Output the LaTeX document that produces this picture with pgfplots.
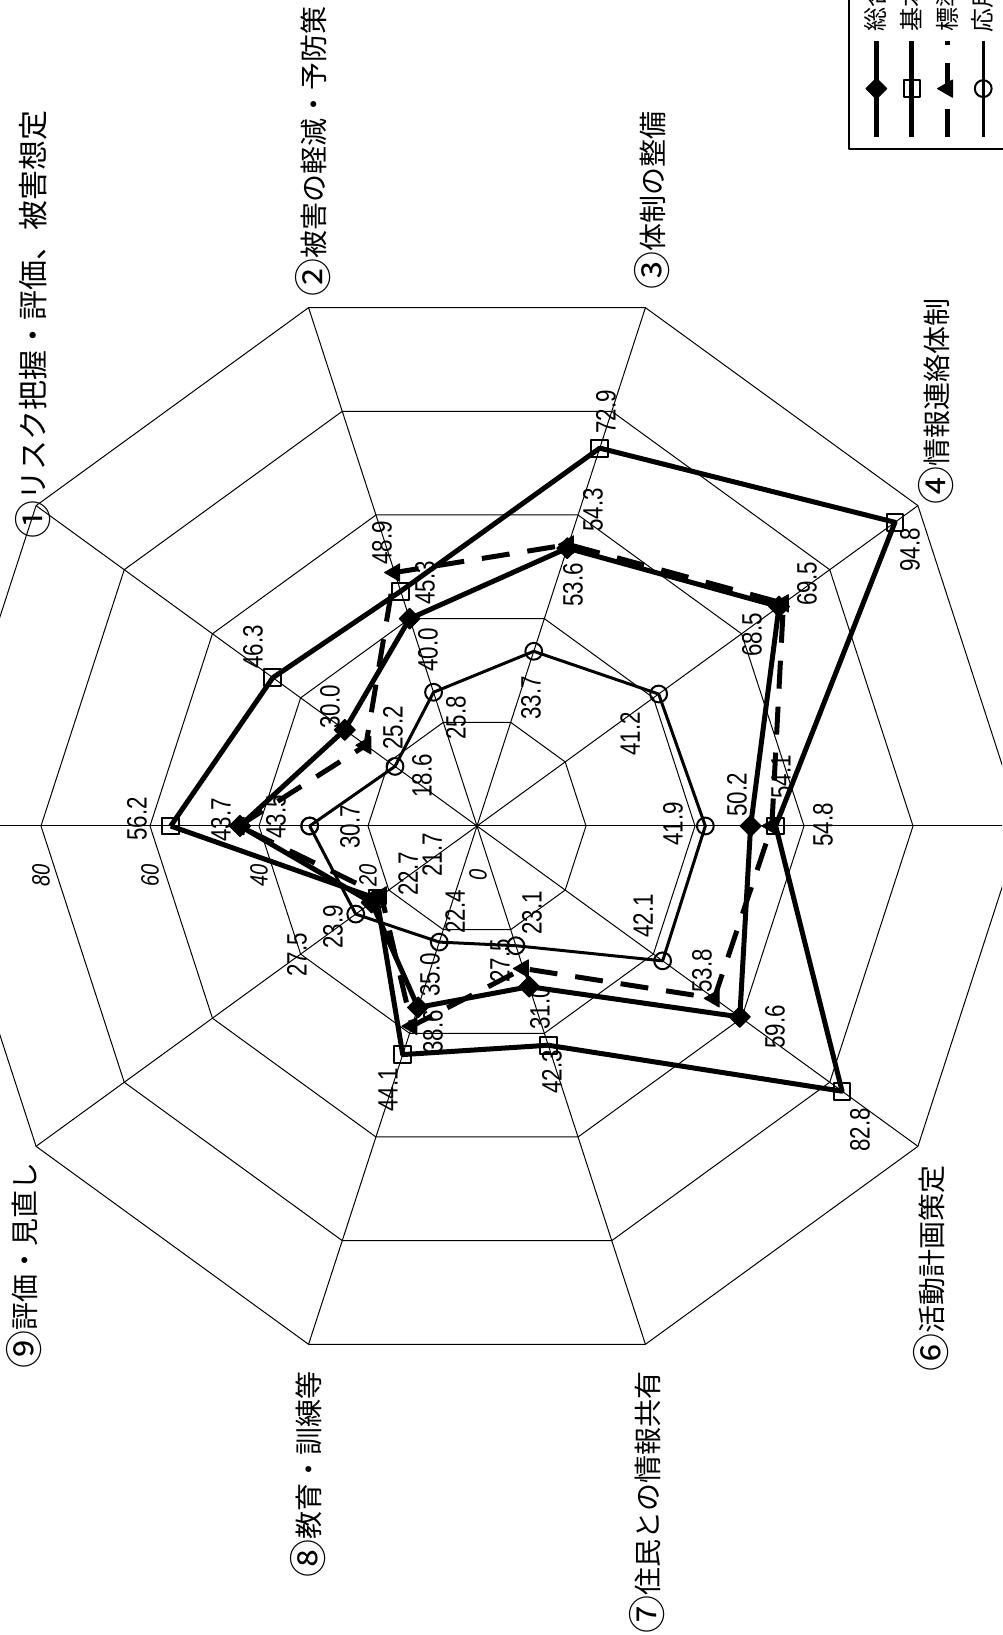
\documentclass[border=0pt]{standalone}
\usepackage{fontspec}
\usepackage{pgfplots}
\pgfplotsset{compat=1.18}
\usepgfplotslibrary{polar}
\setmainfont{Liberation Sans}
\newfontfamily\jp{Noto Sans CJK JP}
\newfontfamily\num[FakeStretch=0.8]{Liberation Sans}

\pgfplotsset{
  gridline/.style={black, line width=0.5pt, mark=none, data cs=polar, forget plot},
  % legend sample: upright line with the mark in the middle and the name above it
  vleg/.style={legend image code/.code={
    \draw[mark repeat=2, mark phase=2, ##1] plot coordinates {(0pt,0pt) (0pt,24pt) (0pt,48pt)};
    \node[rotate=90, anchor=west, inner sep=0pt, font=\jp\fontsize{12}{12}\selectfont] at (0pt,51.5pt) {#1};}},
}
% value label, rotated like the rest of the page
\newcommand{\vl}[3]{\node[rotate=90, inner sep=0pt, font=\num\fontsize{14}{14}\selectfont] at (axis cs:#1,#2) {#3};}
\newcommand{\tl}[2]{\node[rotate=90, inner sep=0pt, font=\num\itshape\fontsize{12.5}{12.5}\selectfont] at (axis cs:#1,-9) {#2};}
% circled number, set a little larger than the CJK font gives it
\newcommand{\cn}[1]{\raisebox{-1.5pt}{\fontsize{19}{19}\selectfont #1}}

\begin{document}
\begin{tikzpicture}
\begin{axis}[
  width=501pt, height=817.5pt, scale only axis,
  xmin=-87.52, xmax=96.33, ymin=-148.44, ymax=151.56,
  hide axis,
  line join=round,
  legend columns=4,
  legend style={at={(0.8463,0.9083)}, anchor=south west,
    draw=black, line width=0.8pt, inner xsep=8pt, inner ysep=5pt,
    column sep=2.6pt, nodes={inner sep=0pt}},
]

% web: rings and spokes
\pgfplotsinvokeforeach{20,40,60,80,100}{
  \addplot[gridline] coordinates {(180,#1) (144,#1) (108,#1) (72,#1) (36,#1) (0,#1) (-36,#1) (-72,#1) (-108,#1) (-144,#1) (180,#1)};
}
\pgfplotsinvokeforeach{180,144,108,72,36,0,-36,-72,-108,-144}{
  \addplot[gridline] coordinates {(0,0) (#1,100)};
}

% 総合
\addplot[black, line width=2.5pt, data cs=polar, mark=square*, mark size=3.7pt,
  mark options={solid, rotate=45, line width=0.5pt}, vleg=総合]
  coordinates {(180,43.5) (144,30.0) (108,40.0) (72,53.6) (36,68.5) (0,50.2) (-36,59.6) (-72,31.0) (-108,35.0) (-144,23.9) (180,43.5)};
\addlegendentry{}
% 基本
\addplot[black, line width=2.5pt, data cs=polar, mark=square, mark size=4.2pt,
  mark options={solid, line width=1pt}, vleg=基本]
  coordinates {(180,56.2) (144,46.3) (108,45.3) (72,72.9) (36,94.8) (0,54.8) (-36,82.8) (-72,42.3) (-108,44.1) (-144,22.7) (180,56.2)};
\addlegendentry{}
% 標準
\addplot[black, line width=2.5pt, dash pattern=on 14pt off 9pt, data cs=polar, mark=triangle*, mark size=5pt,
  mark options={solid, rotate=90, line width=0.5pt}, vleg=標準]
  coordinates {(180,43.7) (144,25.2) (108,48.9) (72,54.3) (36,69.5) (0,54.1) (-36,53.8) (-72,27.5) (-108,38.6) (-144,21.7) (180,43.7)};
\addlegendentry{}
% 応用
\addplot[black, line width=1.5pt, data cs=polar, mark=o, mark size=4.2pt,
  mark options={solid, line width=1pt}, vleg=応用]
  coordinates {(180,30.7) (144,18.6) (108,25.8) (72,33.7) (36,41.2) (0,41.9) (-36,42.1) (-72,23.1) (-108,22.4) (-144,27.5) (180,30.7)};
\addlegendentry{}

% value labels
\vl{-62.39}{1.28}{56.2}
\vl{-46.97}{1.10}{43.7}
\vl{-36.88}{1.65}{43.5}
\vl{-23.30}{-0.18}{30.7}
\vl{-41.10}{32.84}{46.3}
\vl{-26.97}{21.83}{30.0}
\vl{-15.41}{17.98}{25.2}
\vl{-10.09}{9.17}{18.6}
\vl{-17.43}{51.93}{48.9}
\vl{-9.54}{44.59}{45.3}
\vl{-8.99}{32.29}{40.0}
\vl{-3.85}{19.82}{25.8}
\vl{23.67}{75.96}{72.9}
\vl{21.28}{57.98}{54.3}
\vl{17.61}{44.22}{53.6}
\vl{9.91}{23.49}{33.7}
\vl{79.45}{50.64}{94.8}
\vl{60.55}{44.40}{69.5}
\vl{50.46}{35.05}{68.5}
\vl{28.07}{16.88}{41.2}
\vl{35.96}{0.37}{41.9}
\vl{47.71}{5.69}{50.2}
\vl{55.78}{8.99}{54.1}
\vl{63.49}{0.18}{54.8}
\vl{70.28}{-55.78}{82.8}
\vl{54.68}{-36.88}{59.6}
\vl{41.28}{-26.61}{53.8}
\vl{30.46}{-16.51}{42.1}
\vl{13.76}{-45.14}{42.3}
\vl{11.56}{-33.39}{31.0}
\vl{4.22}{-24.77}{27.5}
\vl{10.09}{-15.96}{23.1}
\vl{-16.33}{-48.44}{44.1}
\vl{-8.07}{-37.80}{38.6}
\vl{-8.62}{-27.34}{35.0}
\vl{-4.04}{-15.78}{22.4}
\vl{-33.03}{-23.67}{27.5}
\vl{-26.42}{-18.53}{23.9}
\vl{-12.66}{-8.81}{22.7}
\vl{-8.26}{-5.32}{21.7}

% scale labels
\tl{0.2}{0}
\tl{-20}{20}
\tl{-40}{40}
\tl{-60}{60}
\tl{-80}{80}

% category labels
\begin{scope}[every node/.style={rotate=90, inner sep=0pt, font=\jp\fontsize{14}{14}\selectfont}]
\node[anchor=west, font=\jp\fontsize{15}{15}\selectfont] at (axis cs:-81.47,52.66) {\cn{①}リスク把握・評価、被害想定};
\node[anchor=west] at (axis cs:-30.09,97.06) {\cn{②}被害の軽減・予防策};
\node[anchor=west] at (axis cs:32.11,98.35) {\cn{③}体制の整備};
\node[anchor=west] at (axis cs:84.22,58.90) {\cn{④}情報連絡体制};
\node[anchor=east] at (axis cs:83.30,-62.20) {\cn{⑥}活動計画策定};
\node[anchor=east] at (axis cs:31.19,-100.0) {\cn{⑦}住民との情報共有};
\node[anchor=east] at (axis cs:-31.01,-100.0) {\cn{⑧}教育・訓練等};
\node[anchor=east] at (axis cs:-83.12,-61.65) {\cn{⑨}評価・見直し};
\end{scope}
\end{axis}
\pgfresetboundingbox
\useasboundingbox (current axis.south west) rectangle (current axis.north east);
\end{tikzpicture}
\end{document}
